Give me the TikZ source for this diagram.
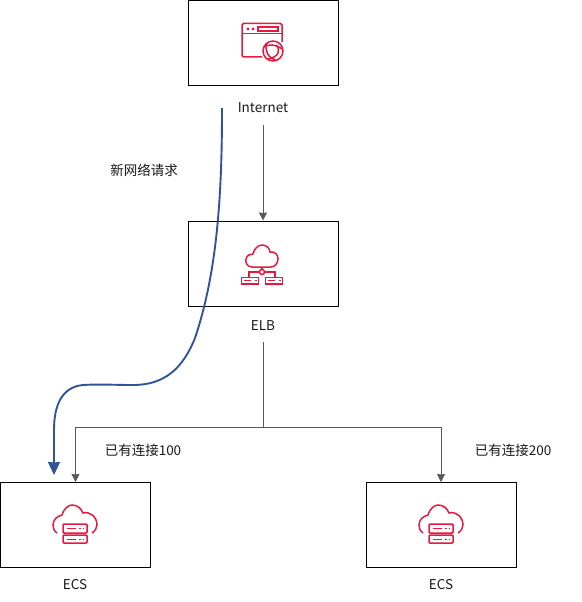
\documentclass[tikz,border=0pt]{standalone}
\usepackage{fontspec}
\setmainfont{Noto Sans CJK SC}
\usetikzlibrary{arrows.meta}
\definecolor{iconred}{HTML}{E8193F}
\definecolor{connblue}{HTML}{2F5597}
\definecolor{conngray}{HTML}{595959}
\tikzset{
  hostbox/.style={draw=black, line width=1pt, minimum width=150pt, minimum height=85pt, inner sep=0pt},
  caption/.style={font=\fontsize{13.5pt}{15pt}\selectfont, text=black!90, inner sep=0pt},
  conn/.style={draw=conngray, line width=0.9pt, -{Stealth[length=8pt, width=8pt, inset=0.5pt]}},
  iconline/.style={draw=iconred, line width=1.5pt},
  ecsicon/.pic={
    \draw[iconline] (-18,8) .. controls (-21,6) and (-22,3) .. (-22,0)
      .. controls (-22,-6) and (-17,-9) .. (-13,-10)
      .. controls (-11,-17) and (-6,-20) .. (-3,-20)
      .. controls (2,-20) and (6,-17) .. (8,-12)
      .. controls (15,-14) and (22,-8) .. (22,0)
      .. controls (22,3) and (20,6) .. (17,8);
    \draw[iconline, rounded corners=1pt] (-12,-1) rectangle (12,8);
    \draw[iconline, rounded corners=1pt] (-12,10) rectangle (12,18);
    \draw[iconline, line width=1pt] (-8,3.5)--(1,3.5) (4,3.5)--(5.5,3.5) (7.5,3.5)--(9,3.5);
    \draw[iconline, line width=1pt] (-8,14)--(1,14) (4,14)--(5.5,14) (7.5,14)--(9,14);
  }
}
\begin{document}
\begin{tikzpicture}[x=1pt, y=-1pt]
  \useasboundingbox (0,0) rectangle (581,602);
  % cajas
  \node[hostbox] (web) at (263,43) {};
  \node[hostbox] (elb) at (263,263.5) {};
  \node[hostbox] (ecsl) at (75.5,525) {};
  \node[hostbox] (ecsr) at (441,525) {};
  % textos
  \node[caption, minimum height=34pt] (weblabel) at (263,108) {Internet};
  \node[caption, minimum height=32pt] (elblabel) at (263,326) {ELB};
  \node[caption] (ecsllabel) at (75,585) {ECS};
  \node[caption] (ecsrlabel) at (441,585) {ECS};
  \node[caption] (newreq) at (144,170) {新网络请求};
  \node[caption] (connl) at (143,450) {已有连接100};
  \node[caption] (connr) at (513,450) {已有连接200};
  % conexiones grises
  \coordinate (split) at (263,427);
  \draw[conn] (weblabel.south) -- (elb.north);
  \draw[conngray, line width=0.9pt] (elblabel.south) -- (split);
  \draw[conn] (split) -| (ecsl.north);
  \draw[conn] (split) -| (ecsr.north);
  % curva azul
  \coordinate (reqstart) at (222,108);
  \coordinate (reqend) at (54,475);
  \draw[connblue, line width=1.9pt, -{Stealth[length=13pt, width=12pt, inset=0.5pt]}] (reqstart)
    .. controls (222,190) and (218,270) .. (195,338)
    .. controls (183,368) and (165,385) .. (133,385)
    .. controls (115,385) and (100,384) .. (83,385)
    .. controls (62,387) and (54,405) .. (54,430)
    -- (reqend);
  % icono navegador
  \draw[iconline, rounded corners=1.5pt] (262,57) -- (242,57) -- (242,23.5) -- (282,23.5) -- (282,42);
  \draw[iconline] (242,33.5) -- (282,33.5);
  \draw[iconline] (258,27) rectangle (278,31);
  \fill[iconred] (248,29) circle (1.7pt) (253,29) circle (1.7pt);
  \draw[iconline] (273,51) circle (10pt);
  \draw[iconline] (264,47) .. controls (268,44) and (276,44) .. (282,49);
  \draw[iconline] (267,43) .. controls (264,50) and (268,58) .. (276,60);
  \draw[iconline] (276,45) .. controls (281,50) and (279,57) .. (268,59);
  % icono nube ELB
  \draw[iconline] (252,267) .. controls (247,267) and (245,262) .. (246,259)
    .. controls (247,255) and (250,254) .. (253,254)
    .. controls (254,249) and (258,245) .. (262,245)
    .. controls (267,245) and (270,249) .. (270,252)
    .. controls (275,251) and (278,255) .. (278,259)
    .. controls (278,264) and (274,267) .. (271,267) -- cycle;
  \draw[iconline] (262,267) -- (262,270);
  \draw[iconline] (262,272) circle (2.5pt);
  \draw[iconline] (259.5,272) -- (249,272) -- (249,277);
  \draw[iconline] (264.5,272) -- (275,272) -- (275,277);
  \draw[iconline] (241.5,277.5) rectangle (258.5,284);
  \draw[iconline] (265.5,277.5) rectangle (282.5,284);
  \draw[iconline, line width=1pt] (244,280.5)--(251,280.5) (255,280.5)--(256.5,280.5);
  \draw[iconline, line width=1pt] (268,280.5)--(275,280.5) (279,280.5)--(280.5,280.5);
  % iconos ECS
  \pic at (75,525) {ecsicon};
  \pic at (441,525) {ecsicon};
\end{tikzpicture}
\end{document}
